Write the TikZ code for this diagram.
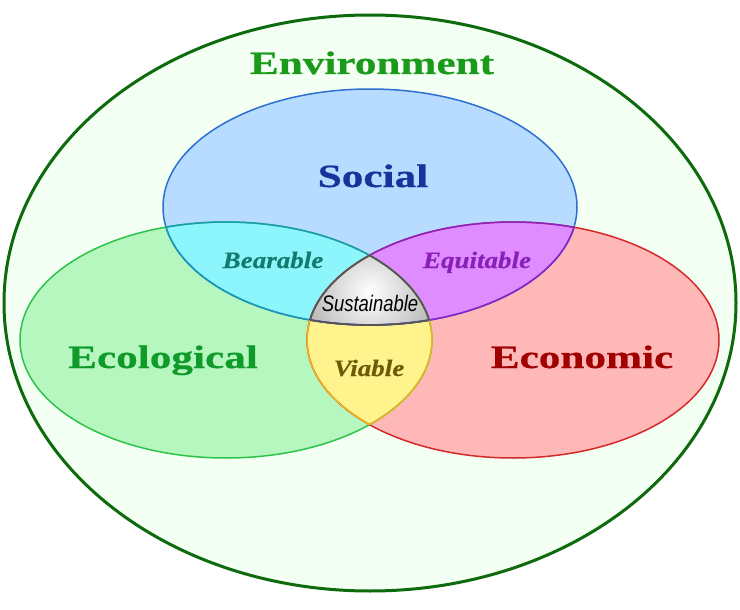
\documentclass[tikz,border=0pt]{standalone}
\usepackage{fontspec}
\newfontfamily\bigserif{Liberation Serif}[FakeStretch=1.33,FakeBold=0.6]
\newfontfamily\italserif{Liberation Serif}[FakeStretch=1.15,FakeBold=0.4]
\newfontfamily\narrowsans{Liberation Sans}[FakeStretch=0.82]
\definecolor{outerfill}{HTML}{F3FFF3}
\definecolor{outerline}{HTML}{0D6B0D}
\definecolor{envtext}{HTML}{1A9A1A}
\definecolor{socfill}{HTML}{B8DCFF}
\definecolor{socline}{HTML}{2D6FD2}
\definecolor{soctext}{HTML}{16349A}
\definecolor{ecofill}{HTML}{B5F7BF}
\definecolor{ecoline}{HTML}{2EC44A}
\definecolor{ecotext}{HTML}{0F9A2A}
\definecolor{econfill}{HTML}{FFB8B8}
\definecolor{econline}{HTML}{D42A2A}
\definecolor{econtext}{HTML}{A00000}
\definecolor{bearfill}{HTML}{8CF6FC}
\definecolor{bearline}{HTML}{1A9AB5}
\definecolor{beartext}{HTML}{137A6E}
\definecolor{equifill}{HTML}{DE8CFF}
\definecolor{equiline}{HTML}{8A22C8}
\definecolor{equitext}{HTML}{8A1FB8}
\definecolor{viafill}{HTML}{FFF38E}
\definecolor{vialine}{HTML}{E8B420}
\definecolor{viatext}{HTML}{6E5B0A}
\definecolor{sustline}{HTML}{555555}
\tikzset{
  bigword/.style={anchor=base, font=\bigserif\bfseries\fontsize{32.5}{36}\selectfont},
  smallword/.style={anchor=base, font=\italserif\bfseries\itshape\fontsize{23.5}{26}\selectfont},
  sustword/.style={anchor=base, font=\narrowsans\itshape\fontsize{22.5}{26}\selectfont},
}
\def\socpath{(370,207) ellipse [x radius=207pt, y radius=118pt]}
\def\ecopath{(226,340) ellipse [x radius=206pt, y radius=118pt]}
\def\econpath{(513,340) ellipse [x radius=206pt, y radius=118pt]}
\begin{document}
\begin{tikzpicture}[x=1pt,y=-1pt]
\useasboundingbox (0,0) rectangle (740,610);
% environment
\draw[line width=3pt, draw=outerline, fill=outerfill] (370,303) ellipse [x radius=366pt, y radius=288pt];
% base fills
\fill[socfill] \socpath;
\fill[ecofill] \ecopath;
\fill[econfill] \econpath;
% pairwise regions
\begin{scope}\clip \socpath; \fill[bearfill] \ecopath; \end{scope}
\begin{scope}\clip \socpath; \fill[equifill] \econpath; \end{scope}
\begin{scope}\clip \ecopath; \fill[viafill] \econpath; \end{scope}
% triple region
\begin{scope}\clip \socpath; \clip \ecopath; \clip \econpath;
  \shade[inner color=white, outer color=black!32] (370,292) circle [radius=75pt];
\end{scope}
% outlines
\draw[line width=1.5pt, socline] \socpath;
\draw[line width=1.5pt, ecoline] \ecopath;
\draw[line width=1.5pt, econline] \econpath;
% recoloured arcs: bearable
\begin{scope}\clip \ecopath; \draw[line width=1.5pt, bearline] \socpath; \end{scope}
\begin{scope}\clip \socpath; \draw[line width=1.5pt, bearline] \ecopath; \end{scope}
% equitable
\begin{scope}\clip \econpath; \draw[line width=1.5pt, equiline] \socpath; \end{scope}
\begin{scope}\clip \socpath; \draw[line width=1.5pt, equiline] \econpath; \end{scope}
% viable
\begin{scope}\clip \ecopath; \draw[line width=1.5pt, vialine] \econpath; \end{scope}
\begin{scope}\clip \econpath; \draw[line width=1.5pt, vialine] \ecopath; \end{scope}
% sustainable
\begin{scope}\clip \ecopath; \clip \econpath; \draw[line width=1.8pt, sustline] \socpath; \end{scope}
\begin{scope}\clip \socpath; \clip \econpath; \draw[line width=1.8pt, sustline] \ecopath; \end{scope}
\begin{scope}\clip \socpath; \clip \ecopath; \draw[line width=1.8pt, sustline] \econpath; \end{scope}
% labels
\node[bigword, text=envtext] (env) at (372,74) {Environment};
\node[bigword, text=soctext] (soc) at (373,187) {Social};
\node[bigword, text=ecotext] (eco) at (163,368) {Ecological};
\node[bigword, text=econtext] (econ) at (582,368) {Economic};
\node[smallword, text=beartext] (bear) at (273,268) {Bearable};
\node[smallword, text=equitext] (equi) at (477,268) {Equitable};
\node[smallword, text=viatext] (via) at (369,376) {Viable};
\node[sustword, text=black] (sust) at (370,311) {Sustainable};
\end{tikzpicture}
\end{document}
